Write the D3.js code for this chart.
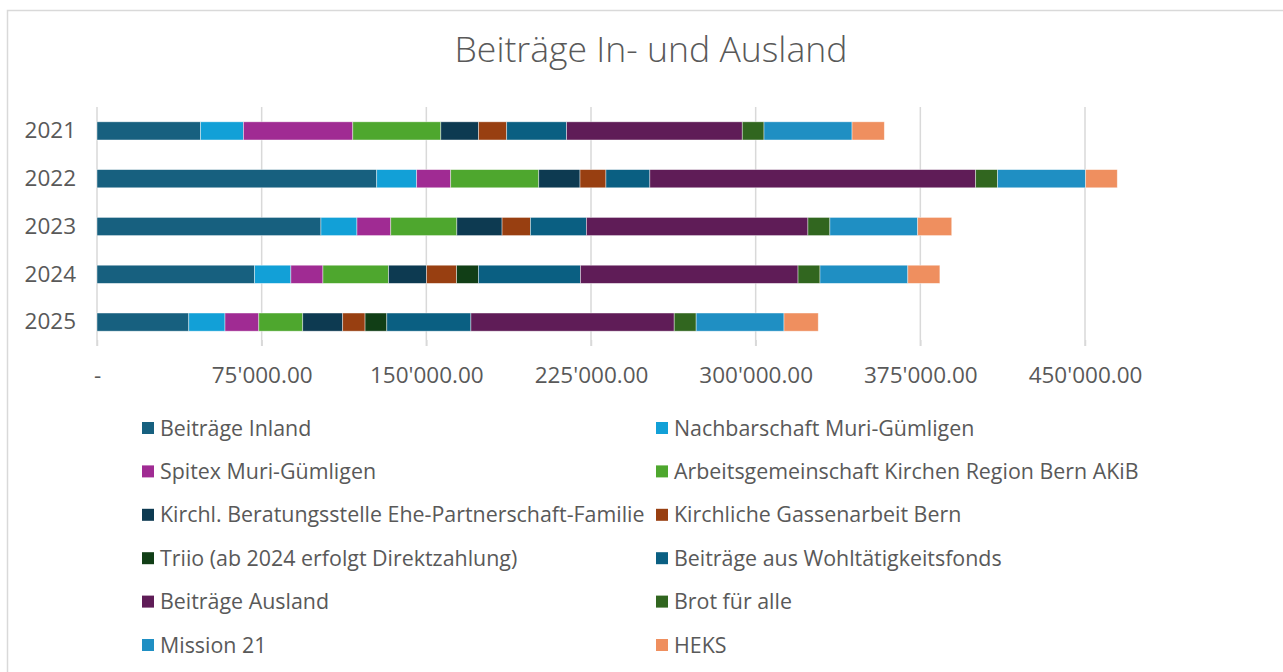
<!DOCTYPE html>
<html>
<head>
<meta charset="utf-8">
<script src="https://cdn.jsdelivr.net/npm/d3@7"></script>
<style>
  body { margin: 0; background: #fff; }
  svg text { font-family: "Open Sans", "Noto Sans", sans-serif; fill: #595959; }
</style>
</head>
<body>
<svg id="chart" width="1283" height="672"></svg>
<script>
// years on the y axis
const years = ["2021", "2022", "2023", "2024", "2025"];

// series names, in stacking order
const seriesNames = [
    "Beiträge Inland",
    "Nachbarschaft Muri-Gümligen",
    "Spitex Muri-Gümligen",
    "Arbeitsgemeinschaft Kirchen Region Bern AKiB",
    "Kirchl. Beratungsstelle Ehe-Partnerschaft-Familie",
    "Kirchliche Gassenarbeit Bern",
    "Triio (ab 2024 erfolgt Direktzahlung)",
    "Beiträge aus Wohltätigkeitsfonds",
    "Beiträge Ausland",
    "Brot für alle",
    "Mission 21",
    "HEKS"
];

// values per series, one per year (2021..2025)
const beitraegeInland   = [47200, 127400, 102000, 71800, 41800];
const nachbarschaft     = [19500, 18200, 16400, 16500, 16500];
const spitex            = [49800, 15500, 15400, 14600, 15400];
const akib              = [40100, 40100, 30100, 29900, 20000];
const beratungsstelle   = [17200, 18800, 20600, 17300, 18200];
const gassenarbeit      = [12800, 11800, 12900, 13700, 10200];
const triio             = [0, 0, 0, 9900, 9900];
const wohltaetigkeit    = [27300, 20000, 25500, 46500, 38300];
const beitraegeAusland  = [80000, 148400, 100900, 99100, 92600];
const brotFuerAlle      = [9900, 10000, 10000, 10000, 10000];
const mission21         = [40100, 40100, 40000, 40000, 40000];
const heks              = [14700, 14400, 15500, 14600, 15600];

const seriesValues = [beitraegeInland, nachbarschaft, spitex, akib, beratungsstelle,
    gassenarbeit, triio, wohltaetigkeit, beitraegeAusland, brotFuerAlle, mission21, heks];

// x tick values
const xTicks = [0, 75000, 150000, 225000, 300000, 375000, 450000];

const colors = ["#17607f", "#12a0d7", "#a02b93", "#4ea72e", "#0d3a51", "#983f11",
    "#113e16", "#0a5f82", "#5f1c57", "#31661f", "#1f8fc3", "#ef8f5f"];

// table for d3.stack
const table = years.map((y, i) => {
    const row = { year: y };
    seriesNames.forEach((s, j) => { row[s] = seriesValues[j][i]; });
    return row;
});

const svg = d3.select("#chart");

// chart frame
svg.append("rect")
    .attr("x", 7.5).attr("y", 10.5)
    .attr("width", 1300).attr("height", 700)
    .attr("fill", "none")
    .attr("stroke", "#d9d9d9")
    .attr("stroke-width", 1.5);

// title
svg.append("text")
    .attr("x", 651).attr("y", 62)
    .attr("text-anchor", "middle")
    .attr("font-size", 35.6)
    .style("font-weight", 300)
    .text("Beiträge In- und Ausland");

const plotTop = 107, plotBottom = 346;

const x = d3.scaleLinear()
    .domain([0, 450000])
    .range([97, 1085]);

const y = d3.scaleBand()
    .domain(years)
    .range([plotTop, plotBottom])
    .paddingInner(0.62)
    .paddingOuter(0.31);

const loc = d3.formatLocale({ decimal: ".", thousands: "'", grouping: [3], currency: ["", ""] });
const fmt = loc.format(",.2f");

// gridlines
svg.append("g")
    .selectAll("line")
    .data(xTicks)
    .join("line")
    .attr("x1", d => x(d)).attr("x2", d => x(d))
    .attr("y1", plotTop).attr("y2", plotBottom)
    .attr("stroke", "#d9d9d9")
    .attr("stroke-width", 1.5);

// x axis (labels + small ticks)
const xAxis = svg.append("g")
    .attr("transform", `translate(0,${plotBottom - 6})`)
    .call(d3.axisBottom(x)
        .tickValues(xTicks)
        .tickSize(6)
        .tickPadding(21)
        .tickFormat(d => d === 0 ? "-" : fmt(d)));
xAxis.select(".domain").remove();
xAxis.selectAll(".tick line").attr("stroke", "#d9d9d9").attr("stroke-width", 1.5);
xAxis.selectAll(".tick text")
    .attr("font-size", 22.5)
    .attr("fill", "#595959")
    .style("font-family", "'Open Sans', 'Noto Sans', sans-serif");

// y axis labels
const yAxis = svg.append("g")
    .attr("transform", "translate(97,0)")
    .call(d3.axisLeft(y).tickSize(0).tickPadding(21));
yAxis.select(".domain").remove();
yAxis.selectAll(".tick text")
    .attr("font-size", 22.5)
    .attr("fill", "#595959")
    .style("font-family", "'Open Sans', 'Noto Sans', sans-serif");

// stacked bars
const stacked = d3.stack().keys(seriesNames)(table);

svg.append("g")
    .selectAll("g")
    .data(stacked)
    .join("g")
    .attr("fill", (d, i) => colors[i])
    .selectAll("rect")
    .data(d => d.filter(p => p[1] > p[0]))
    .join("rect")
    .attr("x", d => x(d[0]))
    .attr("y", d => y(d.data.year))
    .attr("width", d => x(d[1]) - x(d[0]))
    .attr("height", y.bandwidth())
    .attr("stroke", "#ffffff")
    .attr("stroke-opacity", 0.55)
    .attr("stroke-width", 0.75);

// legend, two columns
const legend = svg.append("g");
const legItems = legend.selectAll("g")
    .data(seriesNames)
    .join("g")
    .attr("transform", (d, i) => `translate(${i % 2 === 0 ? 142 : 656},${428 + Math.floor(i / 2) * 43.4})`);

legItems.append("rect")
    .attr("x", 0).attr("y", -6)
    .attr("width", 12).attr("height", 12)
    .attr("fill", (d, i) => colors[i]);

legItems.append("text")
    .attr("x", 18)
    .attr("dy", "0.35em")
    .attr("font-size", 21.4)
    .text(d => d);
</script>
</body>
</html>
